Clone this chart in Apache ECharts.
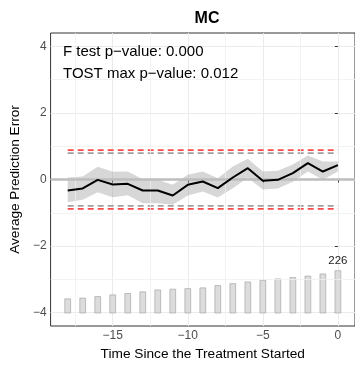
<!DOCTYPE html>
<html>
<head>
<meta charset="utf-8">
<script src="https://cdn.jsdelivr.net/npm/echarts@6/dist/echarts.min.js"></script>
</head>
<body style="margin:0">
<div id="container" style="width:355px;height:366px"></div>
<script>
var periods = [-18, -17, -16, -15, -14, -13, -12, -11, -10, -9, -8, -7, -6, -5, -4, -3, -2, -1, 0];
var estimate = [-0.33, -0.27, -0.01, -0.15, -0.13, -0.33, -0.33, -0.48, -0.16, -0.06, -0.26, 0.06, 0.34, -0.04, -0.01, 0.19, 0.49, 0.24, 0.43];
var ciUpper = [0.06, 0.09, 0.38, 0.23, 0.24, 0.01, -0.01, -0.16, 0.14, 0.24, 0.04, 0.39, 0.62, 0.24, 0.26, 0.45, 0.72, 0.54, 0.54];
var ciLower = [-0.68, -0.61, -0.38, -0.53, -0.47, -0.71, -0.71, -0.76, -0.48, -0.36, -0.54, -0.26, 0.05, -0.30, -0.27, -0.07, 0.24, -0.01, 0.24];
var treatedCount = [78, 82, 90, 99, 106, 115, 125, 129, 132, 136, 148, 158, 167, 176, 183, 190, 198, 209, 226];
var eqBound = 0.88;
var minRange = 0.79;
var xTicks = [-15, -10, -5, 0];
var xMinor = [-17.5, -12.5, -7.5, -2.5];
var yTicks = [-4, -2, 0, 2, 4];
var yMinor = [-3, -1, 1, 3];
var statLines = ['F test p\u2212value: 0.000', 'TOST max p\u2212value: 0.012'];

var xMin = -19.14, xMax = 1.14;
var yMin = -4.4, yMax = 4.4;
// bars sit at the bottom of the panel: count 0 at barBase, max count at barTop
var barBase = -4.02, barTop = -2.73;
var maxCount = Math.max.apply(null, treatedCount);
var k = maxCount / (barTop - barBase);

var font = 'Liberation Sans, Arial, sans-serif';
function minus(v) { return String(v).replace('-', '\u2212'); }
function pairs(ys) { return periods.map(function (p, i) { return [p, ys[i]]; }); }
function flat(y) { return [[periods[0], y], [periods[periods.length - 1], y]]; }
function dashed(y, color) {
    return {
        type: 'line', data: flat(y), symbol: 'none', silent: true, z: 3,
        lineStyle: { color: color, width: 1.7, type: [6, 4] }
    };
}

var minorLines = xMinor.map(function (v) { return { xAxis: v }; })
    .concat(yMinor.map(function (v) { return { yAxis: v }; }));

// confidence band: one polygon, upper edge left to right then lower edge back
function renderBand(params, api) {
    if (params.dataIndex !== 0) return;
    var pts = [];
    for (var i = 0; i < periods.length; i++) pts.push(api.coord([periods[i], ciUpper[i]]));
    for (var j = periods.length - 1; j >= 0; j--) pts.push(api.coord([periods[j], ciLower[j]]));
    return {
        type: 'polygon', shape: { points: pts },
        style: { fill: 'rgba(150,150,150,0.38)' }
    };
}

var chart = echarts.init(document.getElementById('container'));
chart.setOption({
    animation: false,
    title: {
        text: 'MC', left: 202, top: 6, textAlign: 'center',
        textStyle: { fontFamily: font, fontSize: 16, fontWeight: 'bold', color: '#000' }
    },
    graphic: statLines.map(function (t, i) {
        return {
            type: 'text', left: 63, top: 44 + i * 22, z: 10,
            style: { text: t, font: '15px ' + font, fill: '#000' }
        };
    }),
    grid: {
        left: 45.5, top: 33, width: 313, height: 296,
        show: true, borderColor: '#333', borderWidth: 1
    },
    xAxis: {
        type: 'value', min: xMin, max: xMax,
        name: 'Time Since the Treatment Started', nameLocation: 'middle', nameGap: 21,
        nameTextStyle: { fontFamily: font, fontSize: 13.7, color: '#000' },
        axisLine: { show: false },
        axisTick: { show: true, length: 3, customValues: xTicks, lineStyle: { color: '#333' } },
        axisLabel: { customValues: xTicks, formatter: minus, margin: 4, fontFamily: font, fontSize: 12, color: '#4d4d4d' },
        splitLine: { show: true, lineStyle: { color: '#ebebeb', width: 1 } }
    },
    yAxis: [{
        type: 'value', min: yMin, max: yMax,
        name: 'Average Prediction Error', nameLocation: 'middle', nameGap: 22,
        nameTextStyle: { fontFamily: font, fontSize: 13.6, color: '#000' },
        axisLine: { show: false },
        axisTick: { show: true, length: 3, customValues: yTicks, lineStyle: { color: '#333' } },
        axisLabel: { customValues: yTicks, formatter: minus, margin: 4, fontFamily: font, fontSize: 12, color: '#4d4d4d' },
        splitLine: { show: true, lineStyle: { color: '#ebebeb', width: 1 } }
    }, {
        type: 'value', show: false,
        min: (yMin - barBase) * k, max: (yMax - barBase) * k,
        splitLine: { show: false }
    }],
    series: [
        {
            name: 'grid', type: 'line', data: [], silent: true, z: 0,
            markLine: {
                silent: true, symbol: 'none', label: { show: false },
                lineStyle: { color: '#f0f0f0', width: 0.8, type: 'solid' },
                data: minorLines
            }
        },
        {
            name: 'counts', type: 'bar', yAxisIndex: 1, barWidth: 6.5, silent: true, z: 1,
            itemStyle: { color: '#dcdcdc', borderColor: '#a6a6a6', borderWidth: 0.7 },
            data: periods.map(function (p, i) {
                var d = { value: [p, treatedCount[i]] };
                if (i === periods.length - 1) {
                    d.label = { show: true, position: 'top', distance: 4, formatter: String(treatedCount[i]),
                        fontFamily: font, fontSize: 11.5, color: '#222' };
                }
                return d;
            })
        },
        {
            name: 'zero', type: 'line', data: [], silent: true, z: 2,
            markLine: {
                silent: true, symbol: 'none', label: { show: false },
                lineStyle: { color: '#bdbdbd', width: 2.5, type: 'solid' },
                data: [{ yAxis: 0 }]
            }
        },
        {
            name: 'ciBand', type: 'custom', silent: true, z: 3,
            data: periods.map(function (p, i) { return [p, ciLower[i], ciUpper[i]]; }),
            encode: { x: 0, y: [1, 2] },
            renderItem: renderBand
        },
        dashed(minRange, '#a0a0a0'),
        dashed(-minRange, '#a0a0a0'),
        dashed(eqBound, '#ff4a4a'),
        dashed(-eqBound, '#ff4a4a'),
        {
            name: 'estimate', type: 'line', data: pairs(estimate), symbol: 'none', silent: true, z: 5,
            lineStyle: { color: '#000', width: 2 }
        }
    ]
});
</script>
</body>
</html>
